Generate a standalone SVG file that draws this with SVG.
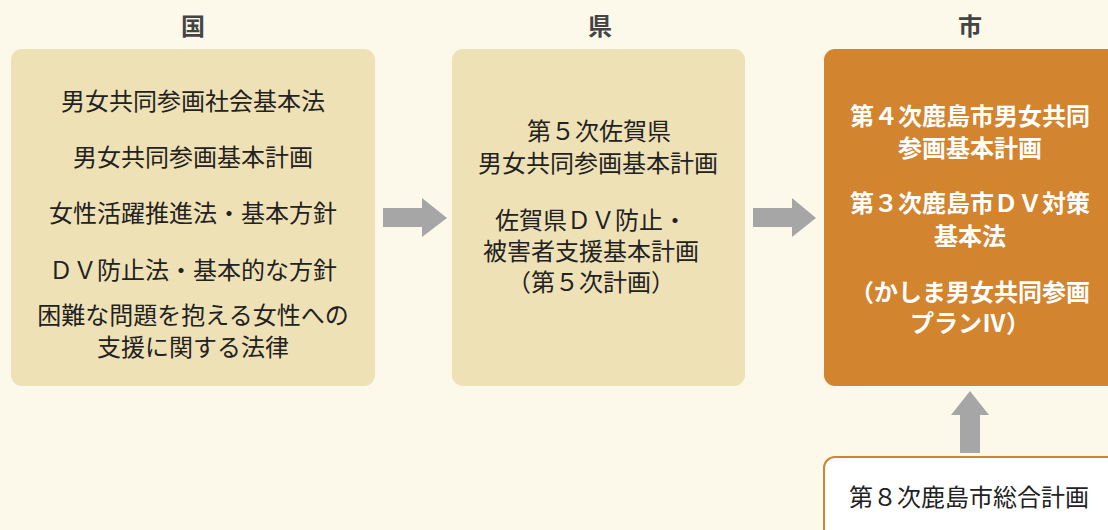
<svg xmlns="http://www.w3.org/2000/svg" width="1108" height="530" viewBox="0 0 1108 530">
<style>
text{font-family:"Noto Sans CJK JP","Noto Sans",sans-serif;font-size:24px;text-anchor:middle}
.hd{fill:#444;font-weight:bold}
.dk{fill:#222}
.wh{fill:#fff;font-weight:bold}
.pale{fill:#EFE1B6}
.arr{fill:#A6A6A6}
</style>
<rect width="1108" height="530" fill="#FCF8EA"/>
<g id="header-kuni"><text class="hd" x="193" y="35">国</text></g>
<g id="header-ken"><text class="hd" x="600" y="35">県</text></g>
<g id="header-shi"><text class="hd" x="970" y="35">市</text></g>
<g id="node-kuni">
<rect class="pale" x="11" y="49" width="364" height="337" rx="11"/>
<text class="dk" x="193" y="110">男女共同参画社会基本法</text>
<text class="dk" x="193" y="166">男女共同参画基本計画</text>
<text class="dk" x="193" y="222">女性活躍推進法・基本方針</text>
<text class="dk" x="193" y="279">ＤＶ防止法・基本的な方針</text>
<text class="dk" x="193" y="324">困難な問題を抱える女性への</text>
<text class="dk" x="193" y="356">支援に関する法律</text>
</g>
<g id="node-ken">
<rect class="pale" x="452" y="49" width="293" height="337" rx="11"/>
<text class="dk" x="599" y="140">第５次佐賀県</text>
<text class="dk" x="598" y="172">男女共同参画基本計画</text>
<text class="dk" x="591" y="229">佐賀県ＤＶ防止・</text>
<text class="dk" x="591" y="260">被害者支援基本計画</text>
<text class="dk" x="591" y="291">（第５次計画）</text>
</g>
<g id="node-shi">
<rect x="824" y="49" width="300" height="337" rx="11" fill="#D2842F"/>
<text class="wh" x="970" y="125">第４次鹿島市男女共同</text>
<text class="wh" x="970" y="157">参画基本計画</text>
<text class="wh" x="970" y="212">第３次鹿島市ＤＶ対策</text>
<text class="wh" x="970" y="245">基本法</text>
<text class="wh" x="970" y="301">（かしま男女共同参画</text>
<text class="wh" x="970" y="332">プランⅣ）</text>
</g>
<g id="node-sogo">
<rect x="824" y="457" width="300" height="100" rx="11" fill="#fff" stroke="#D2842F" stroke-width="2"/>
<text class="dk" x="969" y="506">第８次鹿島市総合計画</text>
</g>
<g id="connectors">
<polygon class="arr" points="383,208 422,208 422,198 447,218 422,237 422,227 383,227"/>
<polygon class="arr" points="753,208 792,208 792,198 816,218 792,237 792,227 753,227"/>
<polygon class="arr" points="960,453 960,415 951,415 970,391 989,415 980,415 980,453"/>
</g>
</svg>
